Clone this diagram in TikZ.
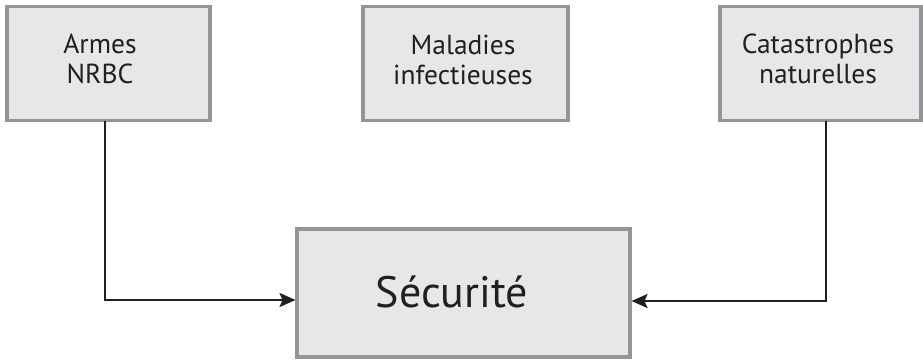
\documentclass[tikz,border=0pt]{standalone}
\usepackage{fontspec}
\setmainfont{PT Sans}
\usetikzlibrary{arrows.meta}
\definecolor{boxfill}{HTML}{E6E7E8}
\definecolor{boxline}{HTML}{939598}
\definecolor{ink}{HTML}{231F20}
\begin{document}
\begin{tikzpicture}[x=1pt,y=1pt,
  box/.style={draw=boxline,fill=boxfill,line width=3.2pt,inner sep=0pt,outer sep=0pt},
  lbl/.style={text=ink,align=center,inner sep=0pt,font=\fontsize{27.5}{30}\selectfont},
  big/.style={text=ink,inner sep=0pt,font=\fontsize{44}{48}\selectfont},
  arr/.style={draw=ink,line width=2pt,-{Stealth[length=16pt,width=14pt,inset=3pt]}}]
\useasboundingbox (0,0) rectangle (923,-360);
\node[box,minimum width=203,minimum height=114] (a) at (108.5,-63.5) {};
\node[box,minimum width=205,minimum height=114] (b) at (465.5,-63.5) {};
\node[box,minimum width=201,minimum height=114] (c) at (820.5,-63.5) {};
\node[box,minimum width=333,minimum height=128] (s) at (463.5,-293) {};
\node[lbl,anchor=base] (ta) at (100,-83) {Armes\\NRBC};
\node[lbl,anchor=base] (tb) at (463,-84) {Maladies\\infectieuses};
\node[lbl,anchor=base] (tc) at (818,-83) {Catastrophes\\naturelles};
\node[big,anchor=base] (ts) at (452,-307) {Sécurité};
\draw[arr] ([xshift=-3.5pt]a.south) |- ([yshift=-7pt,xshift=-1.5pt]s.west);
\draw[arr] ([xshift=5.5pt]c.south) |- ([yshift=-8pt,xshift=1.5pt]s.east);
\end{tikzpicture}
\end{document}
